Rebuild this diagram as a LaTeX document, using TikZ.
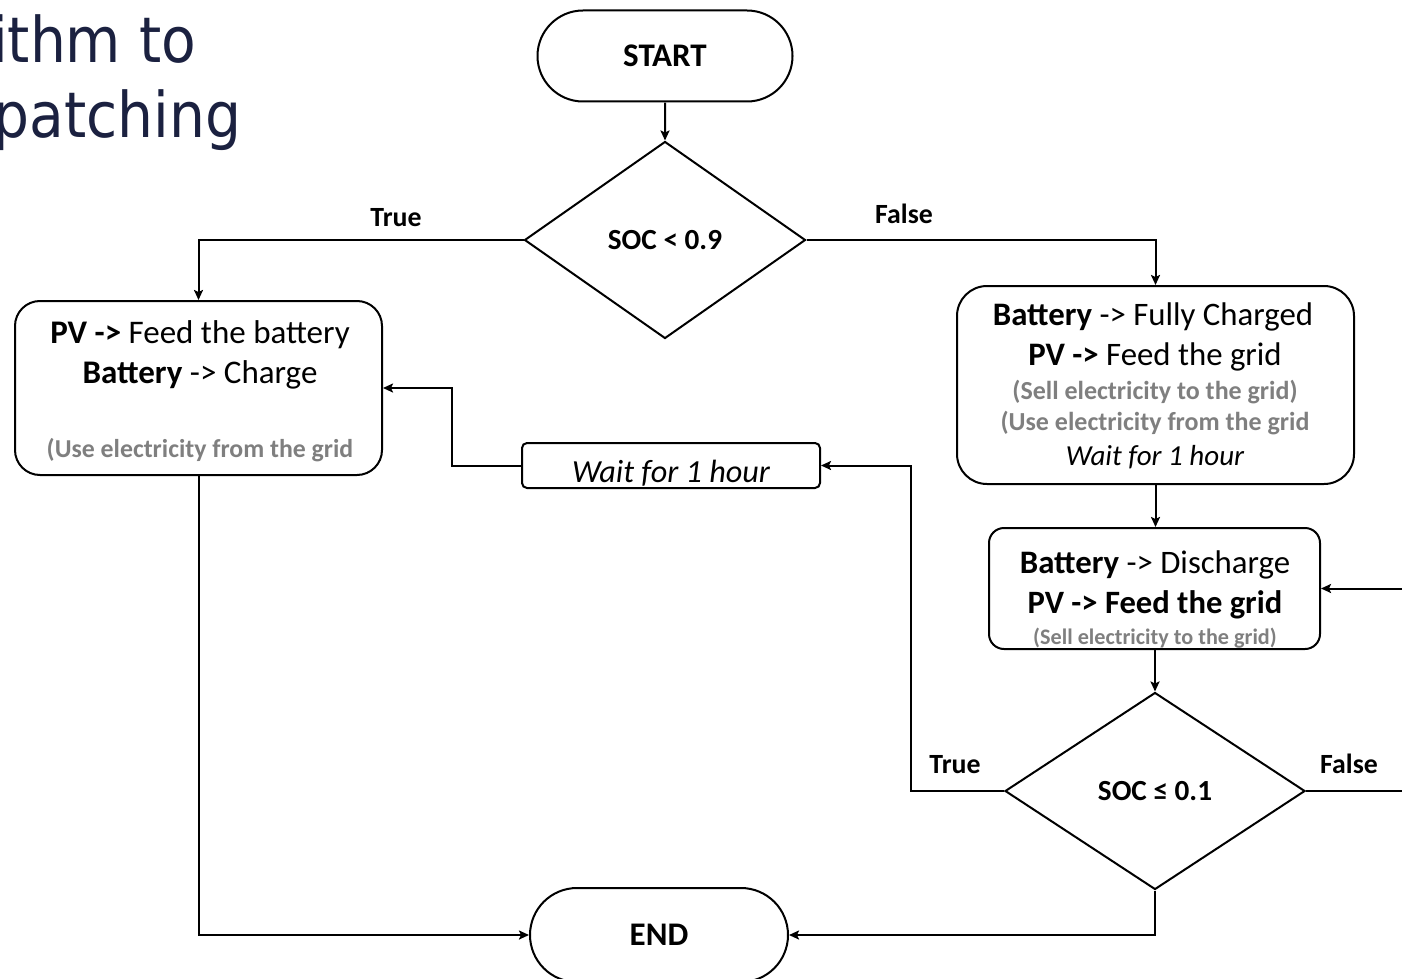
\documentclass[tikz,border=0pt]{standalone}
\usepackage{fontspec}
\setmainfont{Carlito}
\newfontfamily\titlefont{DejaVu Sans Condensed}
\usetikzlibrary{shapes.geometric,shapes.misc,arrows.meta}
\definecolor{navy}{HTML}{1B2140}
\definecolor{greytxt}{HTML}{7F7F7F}
\newcommand\fsz[1]{\fontsize{#1}{#1}\selectfont}
\begin{document}
\begin{tikzpicture}[x=0.5pt,y=-0.5pt,
  line width=1pt,
  conn/.style={-{Stealth[length=5pt,width=4.5pt,inset=1pt]}},
  term/.style={draw, rounded rectangle, inner sep=0pt, font=\fsz{16.5}\bfseries},
  decision/.style={draw, diamond, inner sep=0pt, font=\fsz{14.6}\bfseries},
  procbox/.style={draw, rectangle, inner sep=0pt},
  txt/.style={anchor=base, inner sep=0pt, font=\fsz{16.4}},
  greyt/.style={anchor=base, inner sep=0pt, text=greytxt, font=\fsz{12.9}\bfseries},
  lbl/.style={anchor=base, inner sep=0pt, font=\fsz{13.9}\bfseries},
  ttl/.style={anchor=base east, inner sep=0pt, text=navy, font=\titlefont\fsz{31.5}},
]
\useasboundingbox (0,0) rectangle (1402,979);

% title (cut off at left edge)
\node[ttl] (t1) at (197,63) {rithm to};
\node[ttl] (t2) at (242,137) {spatching};

% terminals and decisions
\node[term, minimum width=127.5pt, minimum height=45.5pt] (start) at (665,56) {START};
\node[decision, minimum width=140.5pt, minimum height=98.5pt] (d1) at (665,240) {SOC < 0.9};
\node[decision, minimum width=150pt, minimum height=98.5pt] (d2) at (1155,791) {SOC ≤ 0.1};
\node[term, minimum width=129pt, minimum height=47pt] (end) at (659,935) {END};

% process boxes
\node[procbox, rounded corners=12.5pt, minimum width=183.5pt, minimum height=87pt] (b1) at (198.5,388) {};
\node[procbox, rounded corners=15pt, minimum width=198.5pt, minimum height=99pt] (b2) at (1155.5,385) {};
\node[procbox, rounded corners=7.5pt, minimum width=165.5pt, minimum height=60.5pt] (b3) at (1154.5,588.5) {};
\node[procbox, rounded corners=2.5pt, minimum width=149pt, minimum height=22.5pt] (wait) at (671,465.5) {};

% box texts
\node[txt, font=\fsz{16.5}] (b1a) at (200,343) {\textbf{PV ->} Feed the battery};
\node[txt, font=\fsz{16.5}] (b1b) at (200,383) {\textbf{Battery} -> Charge};
\node[greyt] (b1c) at (200,457) {(Use electricity from the grid};

\node[txt] (b2a) at (1153,325) {\textbf{Battery} -> Fully Charged};
\node[txt] (b2b) at (1155,365) {\textbf{PV ->} Feed the grid};
\node[greyt, font=\fsz{13}\bfseries] (b2c) at (1155,399) {(Sell electricity to the grid)};
\node[greyt, font=\fsz{13}\bfseries] (b2d) at (1155,430) {(Use electricity from the grid};
\node[txt, font=\fsz{14.5}\itshape] (b2e) at (1155,465) {Wait for 1 hour};

\node[txt] (b3a) at (1155,573) {\textbf{Battery} -> Discharge};
\node[txt, font=\fsz{16.3}\bfseries] (b3b) at (1155,613) {PV -> Feed the grid};
\node[greyt, font=\fsz{11.1}\bfseries] (b3c) at (1155,644) {(Sell electricity to the grid)};

\node[txt, font=\fsz{16.1}\itshape] (wt) at (671,482) {Wait for 1 hour};

% branch labels
\node[lbl] (l1) at (396,226) {True};
\node[lbl] (l2) at (904,223) {False};
\node[lbl] (l3) at (955,773) {True};
\node[lbl] (l4) at (1349,773) {False};

% connector helpers
\coordinate (tl) at (911,791);
\coordinate (fr) at (1420,791);
\coordinate (wl) at (452,465.5);

% connectors
\draw[conn] (start) -- (d1);
\draw[conn] (d1.west) -| (b1.north);
\draw[conn] (d1.east) -| (b2.north);
\draw[conn] (b2.south) -- (b2.south |- b3.north);
\draw[conn] (b3.south -| d2.north) -- (d2.north);
\draw[conn] (d2.west) -- (tl) |- (wait.east);
\draw[conn] (d2.east) -- (fr) |- (b3.east);
\draw[conn] (wait.west) -- (wl) |- (b1.east);
\draw[conn] (b1.south) |- (end.west);
\draw[conn] (d2.south) |- (end.east);
\end{tikzpicture}
\end{document}
